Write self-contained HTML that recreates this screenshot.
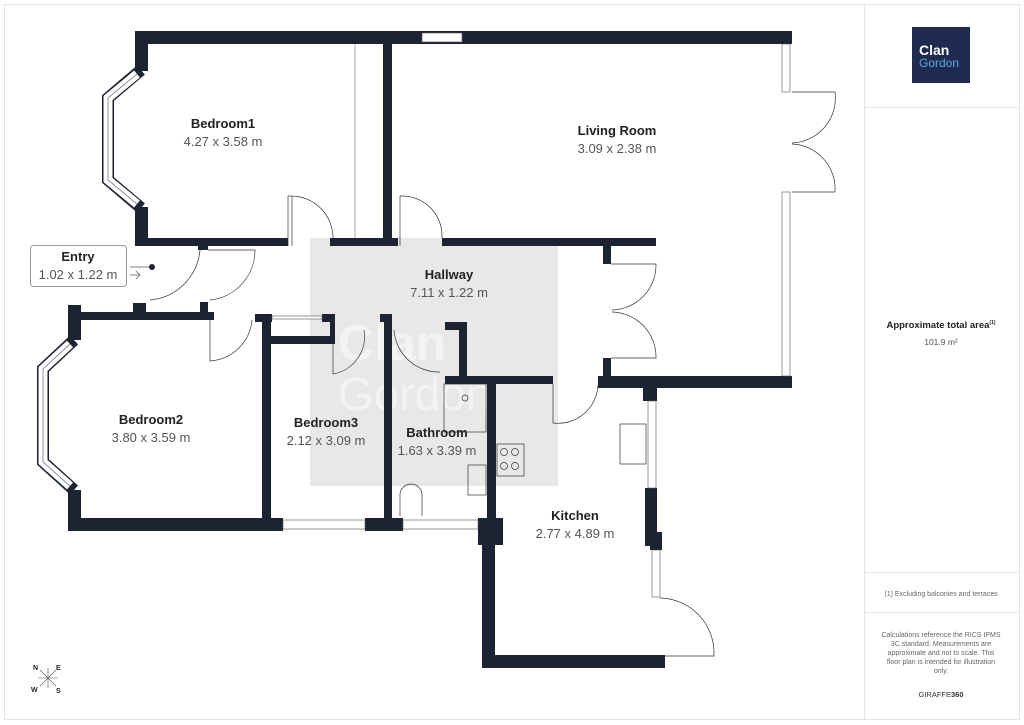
<!DOCTYPE html>
<html><head><meta charset="utf-8"><style>
html,body{margin:0;padding:0;background:#fff;width:1024px;height:725px;overflow:hidden}
svg{display:block}
text{font-family:"Liberation Sans",sans-serif}
</style></head><body>
<svg width="1024" height="725" viewBox="0 0 1024 725" xmlns="http://www.w3.org/2000/svg">
<rect x="4.5" y="4.5" width="1015" height="715" fill="#fff" stroke="#e4e4e4"/>
<line x1="864.5" y1="5" x2="864.5" y2="720" stroke="#e4e4e4"/>
<line x1="864" y1="107.5" x2="1019" y2="107.5" stroke="#e4e4e4"/>
<line x1="864" y1="572.5" x2="1019" y2="572.5" stroke="#e4e4e4"/>
<line x1="864" y1="612.5" x2="1019" y2="612.5" stroke="#e4e4e4"/>
<rect x="912" y="27" width="58" height="56" fill="#1e2a4f"/>
<text x="919" y="55" font-size="14" font-weight="bold" fill="#fff">Clan</text>
<text x="919" y="67" font-size="12" fill="#5aa7e0">Gordon</text>
<text x="941" y="328" font-size="9.5" font-weight="bold" fill="#222" text-anchor="middle">Approximate total area<tspan font-size="5" dy="-4">(1)</tspan></text>
<text x="941" y="345" font-size="8.5" fill="#555" text-anchor="middle">101.9 m²</text>
<text x="941" y="596" font-size="7" fill="#666" text-anchor="middle">(1) Excluding balconies and terraces</text>
<g font-size="7" fill="#666" text-anchor="middle">
<text x="941" y="637">Calculations reference the RICS IPMS</text>
<text x="941" y="646">3C standard. Measurements are</text>
<text x="941" y="655">approximate and not to scale. This</text>
<text x="941" y="664">floor plan is intended for illustration</text>
<text x="941" y="673">only.</text>
</g>
<text x="941" y="697" font-size="7.5" fill="#333" text-anchor="middle">GIRAFFE<tspan font-weight="bold">360</tspan></text>

<rect x="310" y="238" width="248" height="248" fill="#e8e8e8"/>
<text x="338" y="360" font-size="50" font-weight="bold" fill="#fff" opacity="0.5">Clan</text>
<text x="338" y="410" font-size="46" fill="#fff" opacity="0.5">Gordon</text>

<!-- bay windows -->
<g fill="none">
<path d="M141 70 L108 98 V180 L141 208" stroke="#1c2333" stroke-width="12"/>
<path d="M137 74 L108 98 V180 L137 204" stroke="#fff" stroke-width="9"/>
<path d="M137 74 L108 98 V180 L137 204" stroke="#555" stroke-width="0.6"/>
<path d="M74 340 L43 369 V462 L74 490" stroke="#1c2333" stroke-width="12"/>
<path d="M70 344 L43 369 V462 L70 486" stroke="#fff" stroke-width="9"/>
<path d="M70 344 L43 369 V462 L70 486" stroke="#555" stroke-width="0.6"/>
</g>
<g fill="#1c2333">
<rect x="135" y="31" width="657" height="13"/>
<rect x="135" y="31" width="13" height="40"/>
<rect x="135" y="207" width="13" height="39"/>
<rect x="135" y="238" width="153" height="8"/>
<rect x="330" y="238" width="68" height="8"/>
<rect x="383" y="31" width="9" height="215"/>
<rect x="442" y="238" width="214" height="8"/>
<rect x="780" y="31" width="12" height="12"/>
<rect x="782" y="248" width="8" height="8"/>
<rect x="598" y="376" width="194" height="12"/>
<rect x="603" y="246" width="8" height="18"/>
<rect x="603" y="358" width="8" height="18"/>
<rect x="643" y="376" width="14" height="25"/>
<rect x="645" y="488" width="12" height="58"/>
<rect x="650" y="532" width="12" height="18"/>
<rect x="482" y="655" width="183" height="13"/>
<rect x="482" y="518" width="13" height="150"/>
<rect x="478" y="518" width="25" height="27"/>
<rect x="487" y="376" width="9" height="145"/>
<rect x="445" y="376" width="108" height="8"/>
<rect x="445" y="322" width="22" height="8"/>
<rect x="459" y="322" width="8" height="60"/>
<rect x="198" y="242" width="10" height="8"/>
<rect x="68" y="312" width="146" height="8"/>
<rect x="133" y="303" width="13" height="15"/>
<rect x="200" y="302" width="8" height="16"/>
<rect x="68" y="305" width="13" height="35"/>
<rect x="68" y="490" width="13" height="41"/>
<rect x="68" y="518" width="215" height="13"/>
<rect x="365" y="518" width="38" height="13"/>
<rect x="478" y="518" width="17" height="13"/>
<rect x="255" y="314" width="17" height="8"/>
<rect x="262" y="314" width="9" height="217"/>
<rect x="270" y="336" width="60" height="8"/>
<rect x="322" y="314" width="12" height="8"/>
<rect x="330" y="314" width="5" height="30"/>
<rect x="380" y="314" width="12" height="8"/>
<rect x="384" y="314" width="8" height="217"/>
</g>
<g fill="#fff" stroke="#555" stroke-width="0.6">
<rect x="422" y="33" width="40" height="9"/>
<rect x="283" y="520" width="82" height="9"/>
<rect x="403" y="520" width="75" height="9"/>
<rect x="782" y="44" width="8" height="48"/>
<rect x="782" y="192" width="8" height="184"/>
<rect x="648" y="401" width="8" height="87"/>
<rect x="652" y="550" width="8" height="47"/>
<rect x="272" y="316" width="50" height="3"/>
</g>
<line x1="355" y1="44" x2="355" y2="238" stroke="#aaa" stroke-width="1"/>
<g fill="none" stroke="#333" stroke-width="0.7">
<path d="M288 246 V196 H292 V246 M292 196 A42 42 0 0 1 333 238"/>
<path d="M400 246 V196 H404 M404 196 A40 40 0 0 1 442 238"/>
<path d="M200 250 A55 55 0 0 1 150 300"/>
<path d="M208 250 H255 A50 50 0 0 1 210 300"/>
<path d="M210 320 V361 A45 45 0 0 0 252 320"/>
<path d="M333 344 V374 A38 38 0 0 0 364 330"/>
<path d="M394 330 A45 45 0 0 0 440 372"/>
<path d="M611 264 H656 A45 45 0 0 1 612 310 M611 358 H656 A45 45 0 0 0 612 312"/>
<path d="M553 384 V423 A40 40 0 0 0 598 385"/>
<path d="M792 92 H835 A45 45 0 0 1 792 143 M792 192 H835 A45 45 0 0 0 792 144"/>
<path d="M660 598 A55 55 0 0 1 714 652 M714 652 V656 H665"/>
<rect x="444" y="384" width="42" height="48"/>
<circle cx="465" cy="398" r="3"/>
<rect x="497" y="444" width="27" height="32"/>
<circle cx="504" cy="452" r="3.5"/><circle cx="515" cy="452" r="3.5"/>
<circle cx="504" cy="466" r="3.5"/><circle cx="515" cy="466" r="3.5"/>
<rect x="468" y="465" width="18" height="30"/>
<rect x="620" y="424" width="26" height="40"/>
<path d="M400 516 V495 A11 11 0 0 1 422 495 V516"/>
</g>
<g text-anchor="middle">
<text x="223" y="128" font-size="13" font-weight="bold" fill="#222">Bedroom1</text>
<text x="223" y="146" font-size="13" fill="#555">4.27 x 3.58 m</text>
<text x="617" y="135" font-size="13" font-weight="bold" fill="#222">Living Room</text>
<text x="617" y="153" font-size="13" fill="#555">3.09 x 2.38 m</text>
<text x="449" y="279" font-size="13" font-weight="bold" fill="#222">Hallway</text>
<text x="449" y="297" font-size="13" fill="#555">7.11 x 1.22 m</text>
<text x="151" y="424" font-size="13" font-weight="bold" fill="#222">Bedroom2</text>
<text x="151" y="442" font-size="13" fill="#555">3.80 x 3.59 m</text>
<text x="326" y="427" font-size="13" font-weight="bold" fill="#222">Bedroom3</text>
<text x="326" y="445" font-size="13" fill="#555">2.12 x 3.09 m</text>
<text x="437" y="437" font-size="13" font-weight="bold" fill="#222">Bathroom</text>
<text x="437" y="455" font-size="13" fill="#555">1.63 x 3.39 m</text>
<text x="575" y="520" font-size="13" font-weight="bold" fill="#222">Kitchen</text>
<text x="575" y="538" font-size="13" fill="#555">2.77 x 4.89 m</text>
</g>
<rect x="30.5" y="245.5" width="96" height="41" rx="3" fill="#fff" stroke="#999"/>
<text x="78" y="261" font-size="13" font-weight="bold" fill="#222" text-anchor="middle">Entry</text>
<text x="78" y="279" font-size="13" fill="#555" text-anchor="middle">1.02 x 1.22 m</text>
<line x1="130" y1="267" x2="152" y2="267" stroke="#555" stroke-width="0.7"/>
<circle cx="152" cy="267" r="3" fill="#1c2333"/>
<path d="M130 275 H140 M136 271 L140 275 L136 279" fill="none" stroke="#555" stroke-width="0.7"/>
<g stroke="#555" stroke-width="0.6"><line x1="40" y1="670" x2="56" y2="686"/><line x1="56" y1="670" x2="40" y2="686"/><line x1="48" y1="668" x2="48" y2="688"/><line x1="38" y1="678" x2="58" y2="678"/></g>
<g font-size="7" font-weight="bold" fill="#222"><text x="33" y="670">N</text><text x="56" y="670">E</text><text x="31" y="692">W</text><text x="56" y="693">S</text></g>
</svg>
</body></html>
